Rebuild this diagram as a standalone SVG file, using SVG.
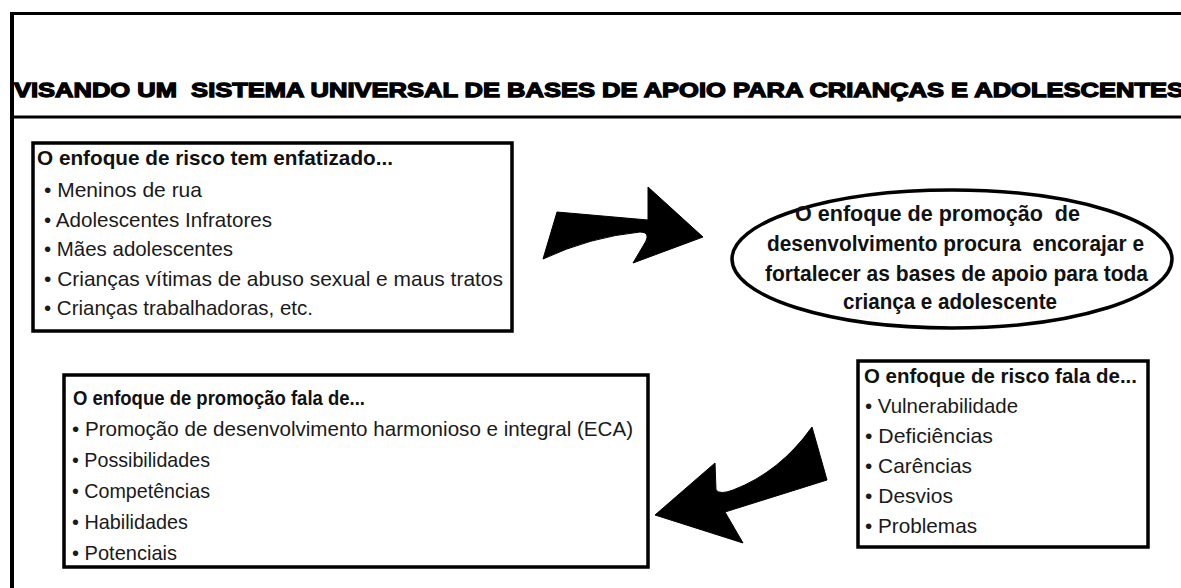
<svg xmlns="http://www.w3.org/2000/svg" width="1181" height="588" viewBox="0 0 1181 588">
<style>
.bx{fill:#fff;stroke:#000;stroke-width:3.5}
.ln{stroke:#000;stroke-width:3;fill:none}
.t{font-family:"Liberation Sans Narrow","Liberation Sans",Arial,sans-serif;font-size:21px;fill:#1a1a1a}
.h{font-family:"Liberation Sans Narrow","Liberation Sans",Arial,sans-serif;font-size:21px;font-weight:bold;fill:#111}
.e{font-family:"Liberation Sans Narrow","Liberation Sans",Arial,sans-serif;font-size:22px;font-weight:bold;fill:#111;white-space:pre}
.ttl{font-family:"Liberation Sans",Arial,sans-serif;font-size:21px;font-weight:bold;fill:#000;stroke:#000;stroke-width:1.3;white-space:pre}
.arw{fill:#000;stroke:#000;stroke-width:1}
</style>
<rect width="1181" height="588" fill="#fff"/>
<g id="frame">
<line class="ln" x1="10" y1="13.5" x2="1181" y2="13.5"/>
<line class="ln" x1="12" y1="12" x2="12" y2="588" style="stroke-width:4"/>
<line class="ln" x1="10" y1="117" x2="1181" y2="117"/>
<text class="ttl" x="14" y="97" textLength="1170" lengthAdjust="spacingAndGlyphs" xml:space="preserve">VISANDO UM  SISTEMA UNIVERSAL DE BASES DE APOIO PARA CRIANÇAS E ADOLESCENTES</text>
</g>
<g id="node-risk-emphasis">
<rect class="bx" x="33" y="143" width="479" height="188"/>
<text class="h" x="37" y="165" textLength="356" lengthAdjust="spacingAndGlyphs">O enfoque de risco tem enfatizado...</text>
<text class="t" x="44" y="197" textLength="158" lengthAdjust="spacingAndGlyphs">• Meninos de rua</text>
<text class="t" x="44" y="226.5" textLength="228" lengthAdjust="spacingAndGlyphs">• Adolescentes Infratores</text>
<text class="t" x="44" y="256" textLength="189" lengthAdjust="spacingAndGlyphs">• Mães adolescentes</text>
<text class="t" x="44" y="285.5" textLength="459" lengthAdjust="spacingAndGlyphs">• Crianças vítimas de abuso sexual e maus tratos</text>
<text class="t" x="44" y="315" textLength="269" lengthAdjust="spacingAndGlyphs">• Crianças trabalhadoras, etc.</text>
</g>
<g id="node-promotion-goal">
<ellipse cx="952" cy="259" rx="220" ry="69" fill="#fff" stroke="#000" stroke-width="3.5"/>
<text class="e" x="795" y="221" textLength="285" lengthAdjust="spacingAndGlyphs" xml:space="preserve">O enfoque de promoção  de</text>
<text class="e" x="767" y="251" textLength="377" lengthAdjust="spacingAndGlyphs" xml:space="preserve">desenvolvimento procura  encorajar e</text>
<text class="e" x="765" y="281" textLength="383" lengthAdjust="spacingAndGlyphs">fortalecer as bases de apoio para toda</text>
<text class="e" x="843" y="309" textLength="214" lengthAdjust="spacingAndGlyphs">criança e adolescente</text>
</g>
<g id="node-promotion-speaks">
<rect class="bx" x="64" y="375" width="584" height="192"/>
<text class="h" x="73" y="405" textLength="292" lengthAdjust="spacingAndGlyphs">O enfoque de promoção fala de...</text>
<text class="t" x="72" y="436" textLength="561" lengthAdjust="spacingAndGlyphs">• Promoção de desenvolvimento harmonioso e integral (ECA)</text>
<text class="t" x="72" y="467" textLength="138" lengthAdjust="spacingAndGlyphs">• Possibilidades</text>
<text class="t" x="72" y="498" textLength="138" lengthAdjust="spacingAndGlyphs">• Competências</text>
<text class="t" x="72" y="529" textLength="116" lengthAdjust="spacingAndGlyphs">• Habilidades</text>
<text class="t" x="72" y="560" textLength="105" lengthAdjust="spacingAndGlyphs">• Potenciais</text>
</g>
<g id="node-risk-speaks">
<rect class="bx" x="858" y="361" width="290" height="186"/>
<text class="h" x="864" y="383" textLength="273" lengthAdjust="spacingAndGlyphs">O enfoque de risco fala de...</text>
<text class="t" x="865" y="413" textLength="153" lengthAdjust="spacingAndGlyphs">• Vulnerabilidade</text>
<text class="t" x="865" y="443" textLength="128" lengthAdjust="spacingAndGlyphs">• Deficiências</text>
<text class="t" x="865" y="473" textLength="107" lengthAdjust="spacingAndGlyphs">• Carências</text>
<text class="t" x="865" y="503" textLength="88" lengthAdjust="spacingAndGlyphs">• Desvios</text>
<text class="t" x="865" y="533" textLength="112" lengthAdjust="spacingAndGlyphs">• Problemas</text>
</g>
<g id="connectors">
<path id="arrow-risk-to-promotion" class="arw" d="M543,259 L557,212 L648,220 L648,187 L703,237 L633,263 L646,241 Q650,232 640,232 Q590,237 543,259 Z"/>
<path id="arrow-risk-to-promotion-speaks" class="arw" d="M655,515 L715,463 L716,490 Q720,495 733,490 Q780,472 812,427 L827,480 L725,512 L743,543 Z"/>
</g>
</svg>
